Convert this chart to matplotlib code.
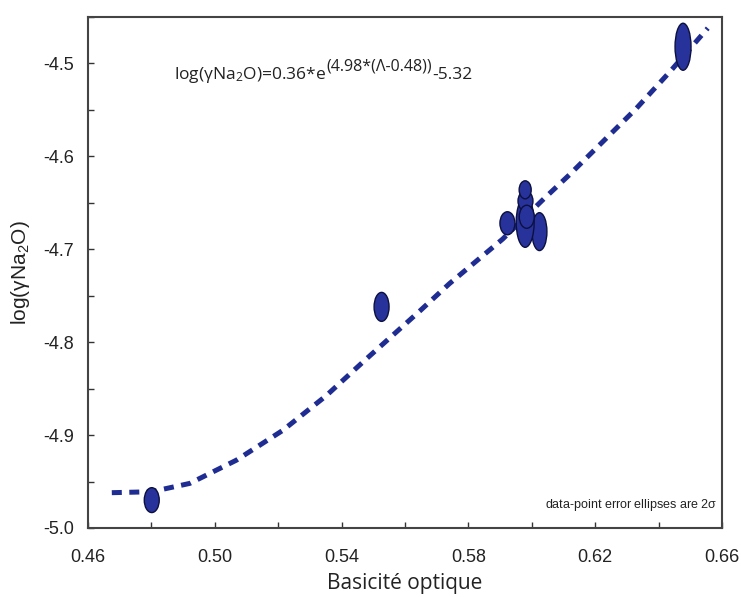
import numpy as np
import matplotlib
matplotlib.use('Agg')
import matplotlib.pyplot as plt
from matplotlib.patches import Ellipse
from matplotlib.ticker import FixedLocator, MultipleLocator, FormatStrFormatter
from matplotlib.transforms import offset_copy

# data points: optical basicity vs log(gamma Na2O), with 2 sigma half-axes
basicity = [0.4801, 0.5526, 0.5923, 0.6024, 0.5979, 0.5980, 0.5984, 0.5979, 0.6477]
log_gamma = [-4.970, -4.762, -4.672, -4.681, -4.671, -4.648, -4.665, -4.636, -4.482]
err_x = [0.00236, 0.00236, 0.00236, 0.00236, 0.00283, 0.00236, 0.00236, 0.00190, 0.00252]
err_y = [0.0134, 0.0156, 0.0124, 0.0204, 0.0269, 0.0108, 0.0124, 0.0097, 0.0253]

# fitted curve
fit_x = [0.4675, 0.480, 0.4921, 0.5068, 0.5214, 0.535, 0.5478, 0.5648, 0.574,
         0.5908, 0.604, 0.6118, 0.6328, 0.6438, 0.6555]
fit_y = [-4.962, -4.961, -4.952, -4.927, -4.895, -4.858, -4.818, -4.766, -4.737,
         -4.689, -4.645, -4.620, -4.549, -4.508, -4.462]

x_ticks = [0.46, 0.50, 0.54, 0.58, 0.62, 0.66]
y_ticks = [-5.0, -4.9, -4.8, -4.7, -4.6, -4.5]

fill = '#27339a'
edge = '#0c1040'
myriad = ['Open Sans', 'DejaVu Sans']

plt.rcParams['font.family'] = ['Liberation Sans', 'DejaVu Sans']
plt.rcParams['mathtext.default'] = 'regular'

fig = plt.figure(figsize=(7.41, 5.97), dpi=100)
ax = fig.add_axes([0.1188, 0.1156, 0.8556, 0.8559])

ax.plot(fit_x, fit_y, color='#1f2c92', lw=3.6, dashes=(2.0, 1.5),
        solid_capstyle='butt', dash_capstyle='butt', zorder=2)

for x, y, ex, ey in zip(basicity, log_gamma, err_x, err_y):
    ax.add_patch(Ellipse((x, y), 2 * ex, 2 * ey, facecolor=fill,
                         edgecolor=edge, lw=1.0, zorder=3))

ax.set_xlim(0.46, 0.66)
ax.set_ylim(-5.0, -4.45)
ax.xaxis.set_major_locator(FixedLocator(x_ticks))
ax.xaxis.set_minor_locator(MultipleLocator(0.02))
ax.yaxis.set_major_locator(FixedLocator(y_ticks))
ax.yaxis.set_minor_locator(MultipleLocator(0.05))
ax.xaxis.set_major_formatter(FormatStrFormatter('%.2f'))
ax.yaxis.set_major_formatter(FormatStrFormatter('%.1f'))
ax.tick_params(which='both', direction='in', length=4, width=1, top=False, right=False,
               labelsize=13, colors='#333333', labelcolor='#222222')
ax.tick_params(axis='y', pad=10)
ax.tick_params(axis='x', pad=15)
for s in ax.spines.values():
    s.set_linewidth(1.5)
    s.set_color('#444444')

ax.set_xlabel('Basicité optique', fontsize=15, family=myriad,
              color='#222222', labelpad=5)
ax.set_ylabel(r'log($\gamma$Na$_2$O)', fontsize=15, color='#222222', labelpad=8)

# equation, built from pieces so the exponent looks like the original
fig.canvas.draw()
r = fig.canvas.get_renderer()
t1 = ax.text(0.135, 0.878, r'log($\gamma$Na$_2$O)=0.36*e', transform=ax.transAxes,
             fontsize=12.5, family=myriad, color='#222222', va='baseline', ha='left')
w1 = t1.get_window_extent(r).width * 72 / fig.dpi
t2 = ax.text(0.135, 0.878, '(4.98*(\u039b-0.48))',
             transform=offset_copy(ax.transAxes, fig, x=w1 + 0.5, y=6.5, units='points'),
             fontsize=11.5, family=myriad, color='#222222', va='baseline', ha='left')
w2 = t2.get_window_extent(r).width * 72 / fig.dpi
ax.text(0.135, 0.878, '-5.32',
        transform=offset_copy(ax.transAxes, fig, x=w1 + w2 + 1, y=0, units='points'),
        fontsize=12.5, family=myriad, color='#222222', va='baseline', ha='left')

ax.text(0.992, 0.045, r'data-point error ellipses are 2$\sigma$', transform=ax.transAxes,
        fontsize=9, ha='right', va='center', color='#222222')

fig.savefig('out.png', dpi=100)
